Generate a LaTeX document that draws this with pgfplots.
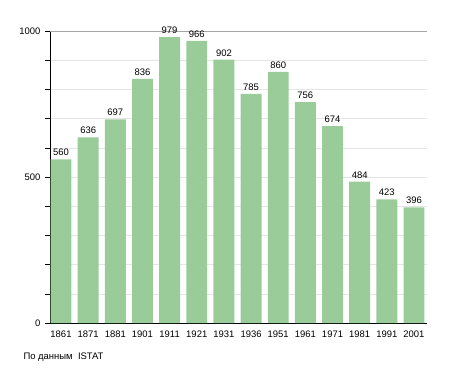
\documentclass[border=0pt]{standalone}
\usepackage{pgfplots}
\pgfplotsset{compat=1.18}
\usepackage{fontspec}
\setmainfont{Liberation Sans}
\definecolor{bargreen}{RGB}{153,204,153}
\begin{document}
\begin{tikzpicture}[x=1bp,y=1bp]
\path[use as bounding box] (-50,-50) rectangle (405,323);
\begin{axis}[
  at={(0,0)}, anchor=south west,
  scale only axis, width=377bp, height=292bp,
  xmin=-0.405, xmax=13.48, ymin=0, ymax=1000,
  axis lines*=left,
  axis line style={black, line width=0.8pt, -},
  xtick=data,
  xticklabels={1861,1871,1881,1901,1911,1921,1931,1936,1951,1961,1971,1981,1991,2001},
  xtick style={draw=none},
  ytick={0,500,1000},
  minor ytick={100,200,300,400,600,700,800,900},
  ymajorgrids, yminorgrids,
  major grid style={gray!20, line width=0.6pt},
  minor grid style={gray!20, line width=0.6pt},
  tick align=outside,
  major tick length=5bp, minor tick length=5bp,
  ytick style={black, line width=0.6pt},
  tick label style={font=\fontsize{9.5}{11}\selectfont},
  /pgf/number format/assume math mode=true,
  /pgf/number format/1000 sep={},
  yticklabel style={xshift=-1bp},
  xticklabel style={yshift=1bp},
  clip=false,
]
\draw[gray!70, line width=0.7pt] (axis cs:-0.405,1000) -- (axis cs:13.48,1000);
\addplot[ybar, bar width=0.77, fill=bargreen, draw=none,
  nodes near coords,
  nodes near coords style={font=\fontsize{9.5}{11}\selectfont, black, yshift=0bp},
] coordinates {
(0,560) (1,636) (2,697) (3,836) (4,979) (5,966) (6,902) (7,785) (8,860) (9,756) (10,674) (11,484) (12,423) (13,396)
};
\end{axis}
\node[anchor=west, font=\fontsize{9.5}{11}\selectfont] at (-30,-34) {По данным\ \ ISTAT};
\end{tikzpicture}
\end{document}
